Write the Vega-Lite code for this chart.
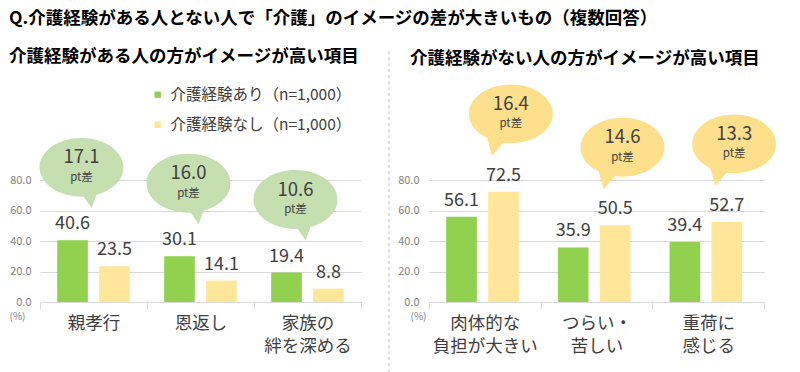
{
  "$schema": "https://vega.github.io/schema/vega-lite/v6.json",
  "background": "white",
  "padding": {"left": 9, "top": 10, "right": 0, "bottom": 0},
  "title": {
    "text": "Q.介護経験がある人とない人で「介護」のイメージの差が大きいもの（複数回答）",
    "anchor": "start",
    "frame": "bounds",
    "fontSize": 17.5,
    "fontWeight": "bold",
    "color": "#000000",
    "offset": 20
  },
  "config": {
    "font": "Noto Sans CJK JP",
    "view": {"stroke": null},
    "title": {"font": "Noto Sans CJK JP"},
    "axisY": {
      "format": ".1f",
      "domain": false,
      "ticks": false,
      "grid": true,
      "gridColor": "#D9D9D9",
      "labelFontSize": 11,
      "labelColor": "#7F7F7F",
      "labelOverlap": false,
      "titleAngle": 0,
      "titleFontSize": 10,
      "titleFontWeight": "normal",
      "titleColor": "#7F7F7F",
      "titleAlign": "center",
      "titleBaseline": "middle",
      "titleY": 166
    },
    "axisX": {
      "title": null,
      "labelAngle": 0,
      "labelFontSize": 17.5,
      "labelColor": "#404040",
      "labelExpr": "split(datum.label, '\\n')",
      "labelLineHeight": 23,
      "labelBaseline": "top",
      "tickBand": "extent",
      "tickColor": "#D9D9D9",
      "tickSize": 7,
      "domainColor": "#D9D9D9",
      "labelPadding": 5,
      "grid": false
    }
  },
  "resolve": {"scale": {"color": "independent"}, "legend": {"color": "independent"}},
  "datasets": {
    "left": [
      {"item": "親孝行", "介護経験あり（n=1,000）": 40.6, "介護経験なし（n=1,000）": 23.5, "diff": 17.1},
      {"item": "恩返し", "介護経験あり（n=1,000）": 30.1, "介護経験なし（n=1,000）": 14.1, "diff": 16.0},
      {"item": "家族の\n絆を深める", "介護経験あり（n=1,000）": 19.4, "介護経験なし（n=1,000）": 8.8, "diff": 10.6}
    ],
    "right": [
      {"item": "肉体的な\n負担が大きい", "介護経験あり（n=1,000）": 56.1, "介護経験なし（n=1,000）": 72.5, "diff": 16.4},
      {"item": "つらい・\n苦しい", "介護経験あり（n=1,000）": 35.9, "介護経験なし（n=1,000）": 50.5, "diff": 14.6},
      {"item": "重荷に\n感じる", "介護経験あり（n=1,000）": 39.4, "介護経験なし（n=1,000）": 52.7, "diff": 13.3}
    ]
  },
  "spacing": 26,
  "hconcat": [
    {
      "width": 321,
      "height": 152,
      "title": {
        "text": "介護経験がある人の方がイメージが高い項目",
        "anchor": "start",
        "frame": "bounds",
        "fontSize": 17.5,
        "fontWeight": "bold",
        "color": "#000000",
        "offset": 22
      },
      "data": {"name": "left"},
      "layer": [
        {
          "transform": [{"fold": ["介護経験あり（n=1,000）", "介護経験なし（n=1,000）"], "as": ["group", "value"]}],
          "mark": {"type": "bar"},
          "encoding": {
            "x": {"field": "item", "type": "nominal", "sort": null,
                  "scale": {"domain": ["親孝行", "恩返し", "家族の\n絆を深める"], "paddingInner": 0, "paddingOuter": 0}},
            "xOffset": {"field": "group", "type": "nominal",
                        "scale": {"domain": ["介護経験あり（n=1,000）", "介護経験なし（n=1,000）"], "paddingInner": 0.27, "paddingOuter": 0.41}},
            "y": {"field": "value", "type": "quantitative", "scale": {"domain": [0, 100]},
                  "axis": {"title": "(%)", "values": [0, 20, 40, 60, 80], "tickCount": 10, "labelPadding": 9, "titleX": -23}},
            "color": {"field": "group", "type": "nominal",
                      "scale": {"domain": ["介護経験あり（n=1,000）", "介護経験なし（n=1,000）"], "range": ["#92D050", "#FFE699"]},
                      "legend": {"orient": "none", "legendX": 110, "legendY": -63, "title": null,
                                 "symbolType": "square", "symbolSize": 40, "labelFontSize": 15.5, "labelLimit": 400,
                                 "labelColor": "#404040", "rowPadding": 13, "labelOffset": 5, "padding": 0}}
          }
        },
        {
          "transform": [{"fold": ["介護経験あり（n=1,000）", "介護経験なし（n=1,000）"], "as": ["group", "value"]}],
          "mark": {"type": "text", "fontSize": 18, "color": "#404040", "baseline": "alphabetic", "dy": -11},
          "encoding": {
            "x": {"field": "item", "type": "nominal", "sort": null},
            "xOffset": {"field": "group", "type": "nominal"},
            "y": {"field": "value", "type": "quantitative"},
            "text": {"field": "value", "type": "quantitative", "format": ".1f"}
          }
        },
        {
          "mark": {"type": "point", "filled": true, "opacity": 1, "color": "#C5DFB0", "strokeWidth": 0,
                   "size": 7056, "xOffset": -12, "yOffset": -73,
                   "shape": "M1,0C1,0.387 0.552,0.7 0,0.7C-0.552,0.7 -1,0.387 -1,0C-1,-0.387 -0.552,-0.7 0,-0.7C0.552,-0.7 1,-0.387 1,0ZM-0.02,0.6L0.4,0.55L0.24,0.97Z"},
          "encoding": {
            "x": {"field": "item", "type": "nominal", "sort": null},
            "y": {"field": "介護経験あり（n=1,000）", "type": "quantitative"}
          }
        },
        {
          "mark": {"type": "text", "fontSize": 18.5, "color": "#404040", "baseline": "middle", "xOffset": -12, "yOffset": -73, "dy": -10},
          "encoding": {
            "x": {"field": "item", "type": "nominal", "sort": null},
            "y": {"field": "介護経験あり（n=1,000）", "type": "quantitative"},
            "text": {"field": "diff", "type": "quantitative", "format": ".1f"}
          }
        },
        {
          "mark": {"type": "text", "fontSize": 11.5, "color": "#404040", "baseline": "middle", "xOffset": -12, "yOffset": -73, "dy": 10.5, "text": "pt差"},
          "encoding": {
            "x": {"field": "item", "type": "nominal", "sort": null},
            "y": {"field": "介護経験あり（n=1,000）", "type": "quantitative"}
          }
        }
      ]
    },
    {
      "width": 335,
      "height": 152,
      "title": {
        "text": "介護経験がない人の方がイメージが高い項目",
        "anchor": "start",
        "frame": "group",
        "dx": -19,
        "fontSize": 17.5,
        "fontWeight": "bold",
        "color": "#000000",
        "offset": -17
      },
      "data": {"name": "right"},
      "layer": [
        {
          "transform": [{"fold": ["介護経験あり（n=1,000）", "介護経験なし（n=1,000）"], "as": ["group", "value"]}],
          "mark": {"type": "bar"},
          "encoding": {
            "x": {"field": "item", "type": "nominal", "sort": null,
                  "scale": {"domain": ["肉体的な\n負担が大きい", "つらい・\n苦しい", "重荷に\n感じる"], "paddingInner": 0, "paddingOuter": 0}},
            "xOffset": {"field": "group", "type": "nominal",
                        "scale": {"domain": ["介護経験あり（n=1,000）", "介護経験なし（n=1,000）"], "paddingInner": 0.27, "paddingOuter": 0.41}},
            "y": {"field": "value", "type": "quantitative", "scale": {"domain": [0, 100]},
                  "axis": {"title": "(%)", "values": [0, 20, 40, 60, 80], "tickCount": 10, "labelPadding": 10, "titleX": -11}},
            "color": {"field": "group", "type": "nominal",
                      "scale": {"domain": ["介護経験あり（n=1,000）", "介護経験なし（n=1,000）"], "range": ["#92D050", "#FFE699"]},
                      "legend": null}
          }
        },
        {
          "transform": [{"fold": ["介護経験あり（n=1,000）", "介護経験なし（n=1,000）"], "as": ["group", "value"]}],
          "mark": {"type": "text", "fontSize": 18, "color": "#404040", "baseline": "alphabetic", "dy": -11},
          "encoding": {
            "x": {"field": "item", "type": "nominal", "sort": null},
            "xOffset": {"field": "group", "type": "nominal"},
            "y": {"field": "value", "type": "quantitative"},
            "text": {"field": "value", "type": "quantitative", "format": ".1f"}
          }
        },
        {
          "mark": {"type": "point", "filled": true, "opacity": 1, "color": "#FEE08C", "strokeWidth": 0,
                   "size": 7056, "xOffset": 26, "yOffset": -78,
                   "shape": "M1,0C1,0.387 0.552,0.7 0,0.7C-0.552,0.7 -1,0.387 -1,0C-1,-0.387 -0.552,-0.7 0,-0.7C0.552,-0.7 1,-0.387 1,0ZM-0.6,0.45L-0.1,0.6L-0.45,1.0Z"},
          "encoding": {
            "x": {"field": "item", "type": "nominal", "sort": null},
            "y": {"field": "介護経験なし（n=1,000）", "type": "quantitative"}
          }
        },
        {
          "mark": {"type": "text", "fontSize": 18.5, "color": "#404040", "baseline": "middle", "xOffset": 26, "yOffset": -78, "dy": -10},
          "encoding": {
            "x": {"field": "item", "type": "nominal", "sort": null},
            "y": {"field": "介護経験なし（n=1,000）", "type": "quantitative"},
            "text": {"field": "diff", "type": "quantitative", "format": ".1f"}
          }
        },
        {
          "mark": {"type": "text", "fontSize": 11.5, "color": "#404040", "baseline": "middle", "xOffset": 26, "yOffset": -78, "dy": 10.5, "text": "pt差"},
          "encoding": {
            "x": {"field": "item", "type": "nominal", "sort": null},
            "y": {"field": "介護経験なし（n=1,000）", "type": "quantitative"}
          }
        },
        {
          "data": {"values": [{}]},
          "mark": {"type": "rule", "xOffset": -40, "strokeDash": [3, 3], "color": "#BFBFBF", "strokeWidth": 1},
          "encoding": {
            "x": {"datum": "肉体的な\n負担が大きい", "bandPosition": 0},
            "y": {"datum": 165},
            "y2": {"datum": -45.6}
          }
        }
      ]
    }
  ]
}
